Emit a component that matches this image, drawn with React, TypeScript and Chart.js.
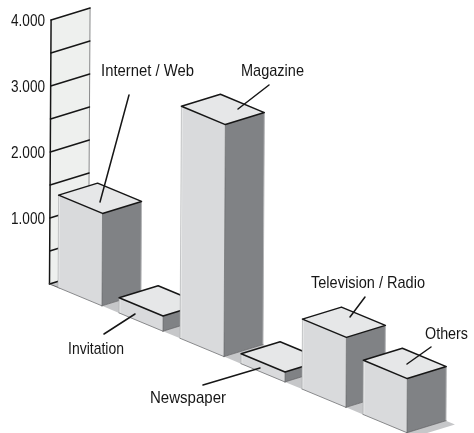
import React, { useEffect, useRef } from "react";
import { Chart, registerables } from "chart.js";

Chart.register(...registerables);

const categories = ["Internet / Web", "Invitation", "Magazine", "Newspaper", "Television / Radio", "Others"];
const values = [1400, 230, 3515, 150, 1060, 820];
const axisMax = 4000;
const axisStep = 500;

// Label placement: text centre, fitted width and leader line, in canvas pixels.
const callouts = [
  { text: categories[0], x: 147.5, y: 71, w: 93, from: [129, 95], to: [100, 202] },
  { text: categories[1], x: 96, y: 349, w: 56, from: [104, 334], to: [135, 314] },
  { text: categories[2], x: 272.5, y: 71, w: 63, from: [269, 85], to: [238, 109] },
  { text: categories[3], x: 188, y: 398, w: 76, from: [203, 385], to: [260, 368] },
  { text: categories[4], x: 368, y: 283, w: 114, from: [365, 297], to: [350, 317] },
  { text: categories[5], x: 446.5, y: 334, w: 43, from: [431, 347], to: [407, 364] },
];

const W = 474;
const H = 433;
const FONT = '17px "Liberation Sans", sans-serif';
const TICK_WIDTH = 34;
const TICK_RIGHT = 45;
const TICK_DROP = 1;
const FLOOR_SLOPE = 0.416; // oblique fall of the category axis
const LEAN = 0.006; // verticals lean right as they rise
const DEPTH: [number, number] = [39, -12];
const INK = "#161616";
const COLORS = {
  wall: "#eef0ee",
  front: "#d9dadc",
  frontEdge: "#eceded",
  top: "#e6e7e8",
  side: "#808285",
  sideEdge: "#b4b5b7",
  shadow: "#c6c7c9",
  floorLine: "#7d7e80",
};

const oblique: any = {
  id: "oblique",
  beforeDatasetsDraw(chart: any) {
    const { ctx, scales, chartArea } = chart;
    const yS = scales.y;
    const x0 = chartArea.left;
    const y0 = yS.getPixelForValue(0);
    const proj = (x: number, y: number, base: number): [number, number] => [
      x + (base - y) * LEAN,
      y + (x - x0) * FLOOR_SLOPE,
    ];
    const poly = (pts: number[][], fill?: string) => {
      ctx.beginPath();
      pts.forEach((p, i) => (i ? ctx.lineTo(p[0], p[1]) : ctx.moveTo(p[0], p[1])));
      ctx.closePath();
      if (fill) {
        ctx.fillStyle = fill;
        ctx.fill();
      }
    };
    const line = (pts: number[][], color: string, width: number) => {
      ctx.beginPath();
      pts.forEach((p, i) => (i ? ctx.lineTo(p[0], p[1]) : ctx.moveTo(p[0], p[1])));
      ctx.strokeStyle = color;
      ctx.lineWidth = width;
      ctx.lineJoin = "round";
      ctx.lineCap = "round";
      ctx.stroke();
    };
    const back = (p: number[]) => [p[0] + DEPTH[0], p[1] + DEPTH[1]];

    // Wall behind the chart, ruled from the value axis
    const topV = proj(x0, yS.getPixelForValue(axisMax), y0);
    const botV = proj(x0, y0, y0);
    poly([botV, topV, back(topV), back(botV)], COLORS.wall);
    poly([botV, [botV[0] + 9, botV[1] + 4], [botV[0] + 9, botV[1] - 3]], COLORS.shadow);
    line([back(topV), back(botV)], "#6c6d6f", 0.8);
    yS.ticks.forEach((t: any) => {
      const p = proj(x0, yS.getPixelForValue(t.value), y0);
      line([p, back(p)], INK, 1.5);
    });
    line([topV, botV], INK, 1.5);
    line([botV, [botV[0] + 10, botV[1] + 4]], "#555", 0.9);

    // Boxes, far to near
    const els = chart.getDatasetMeta(0).data;
    els.forEach((el: any, i: number) => {
      const { x, y, base, width } = el.getProps(["x", "y", "base", "width"], true);
      const l = x - width / 2;
      const r = x + width / 2;
      const lb = proj(l, base, base);
      const fb = proj(r, base, base);
      const lt = proj(l, y, base);
      const ft = proj(r, y, base);
      const rb = back(fb);
      const rt = back(ft);
      const bt = back(lt);

      const next = els[i + 1];
      const gap = next ? next.x - next.width / 2 - r : 9;
      const sh = [gap, gap * FLOOR_SLOPE];
      poly([fb, rb, [rb[0] + sh[0], rb[1] + sh[1]], [fb[0] + sh[0], fb[1] + sh[1]]], COLORS.shadow);

      poly([lb, lt, ft, fb], COLORS.front);
      poly([ft, rt, rb, fb], COLORS.side);
      poly([lt, bt, rt, ft], COLORS.top);
      line([rt, rb], COLORS.sideEdge, 1);
      line([[lt[0] + 0.8, lt[1]], [lb[0] + 0.8, lb[1]]], COLORS.frontEdge, 1);
      line([lt, lb], "#a8a9ab", 0.6);
      line([lb, fb], COLORS.floorLine, 0.9);
      line([fb, rb], "#5e5f61", 0.7);
      line([ft, fb], "#5e5f61", 0.6);
      line([lt, bt, rt, ft, lt], INK, 1.5);
    });
    return false;
  },
  afterDraw(chart: any) {
    const { ctx, scales } = chart;
    ctx.save();
    ctx.font = FONT;
    ctx.fillStyle = INK;
    ctx.textBaseline = "middle";
    ctx.textAlign = "right";
    scales.y.ticks.forEach((t: any) => {
      if (t.label) ctx.fillText(t.label, TICK_RIGHT, scales.y.getPixelForValue(t.value) + TICK_DROP, TICK_WIDTH);
    });
    ctx.textAlign = "center";
    callouts.forEach((c) => {
      ctx.fillText(c.text, c.x, c.y, c.w);
      ctx.beginPath();
      ctx.moveTo(c.from[0], c.from[1]);
      ctx.lineTo(c.to[0], c.to[1]);
      ctx.strokeStyle = INK;
      ctx.lineWidth = 1.5;
      ctx.stroke();
    });
    ctx.restore();
  },
};

export default function App() {
  const ref = useRef<HTMLCanvasElement>(null);
  useEffect(() => {
    document.body.style.margin = "0";
    const chart = new Chart(ref.current as HTMLCanvasElement, {
      type: "bar",
      data: {
        labels: categories,
        datasets: [{ data: values, barPercentage: 0.72, categoryPercentage: 1 }],
      },
      options: {
        animation: false,
        responsive: false,
        devicePixelRatio: 1,
        layout: { padding: { left: 0, right: 58.5, top: 20, bottom: 149 } },
        plugins: { legend: { display: false }, tooltip: { enabled: false } },
        scales: {
          x: { display: false, grid: { display: false } },
          y: {
            min: 0,
            max: axisMax,
            afterFit: (s: any) => {
              s.width = 49.5;
            },
            grid: { display: false },
            border: { display: false },
            ticks: {
              display: false,
              stepSize: axisStep,
              autoSkip: false,
              callback: (v: any) => (v > 0 && v % 1000 === 0 ? `${v / 1000}.000` : ""),
            },
          },
        },
      } as any,
      plugins: [oblique],
    });
    return () => chart.destroy();
  }, []);
  return <canvas ref={ref} width={W} height={H} style={{ display: "block" }} />;
}
